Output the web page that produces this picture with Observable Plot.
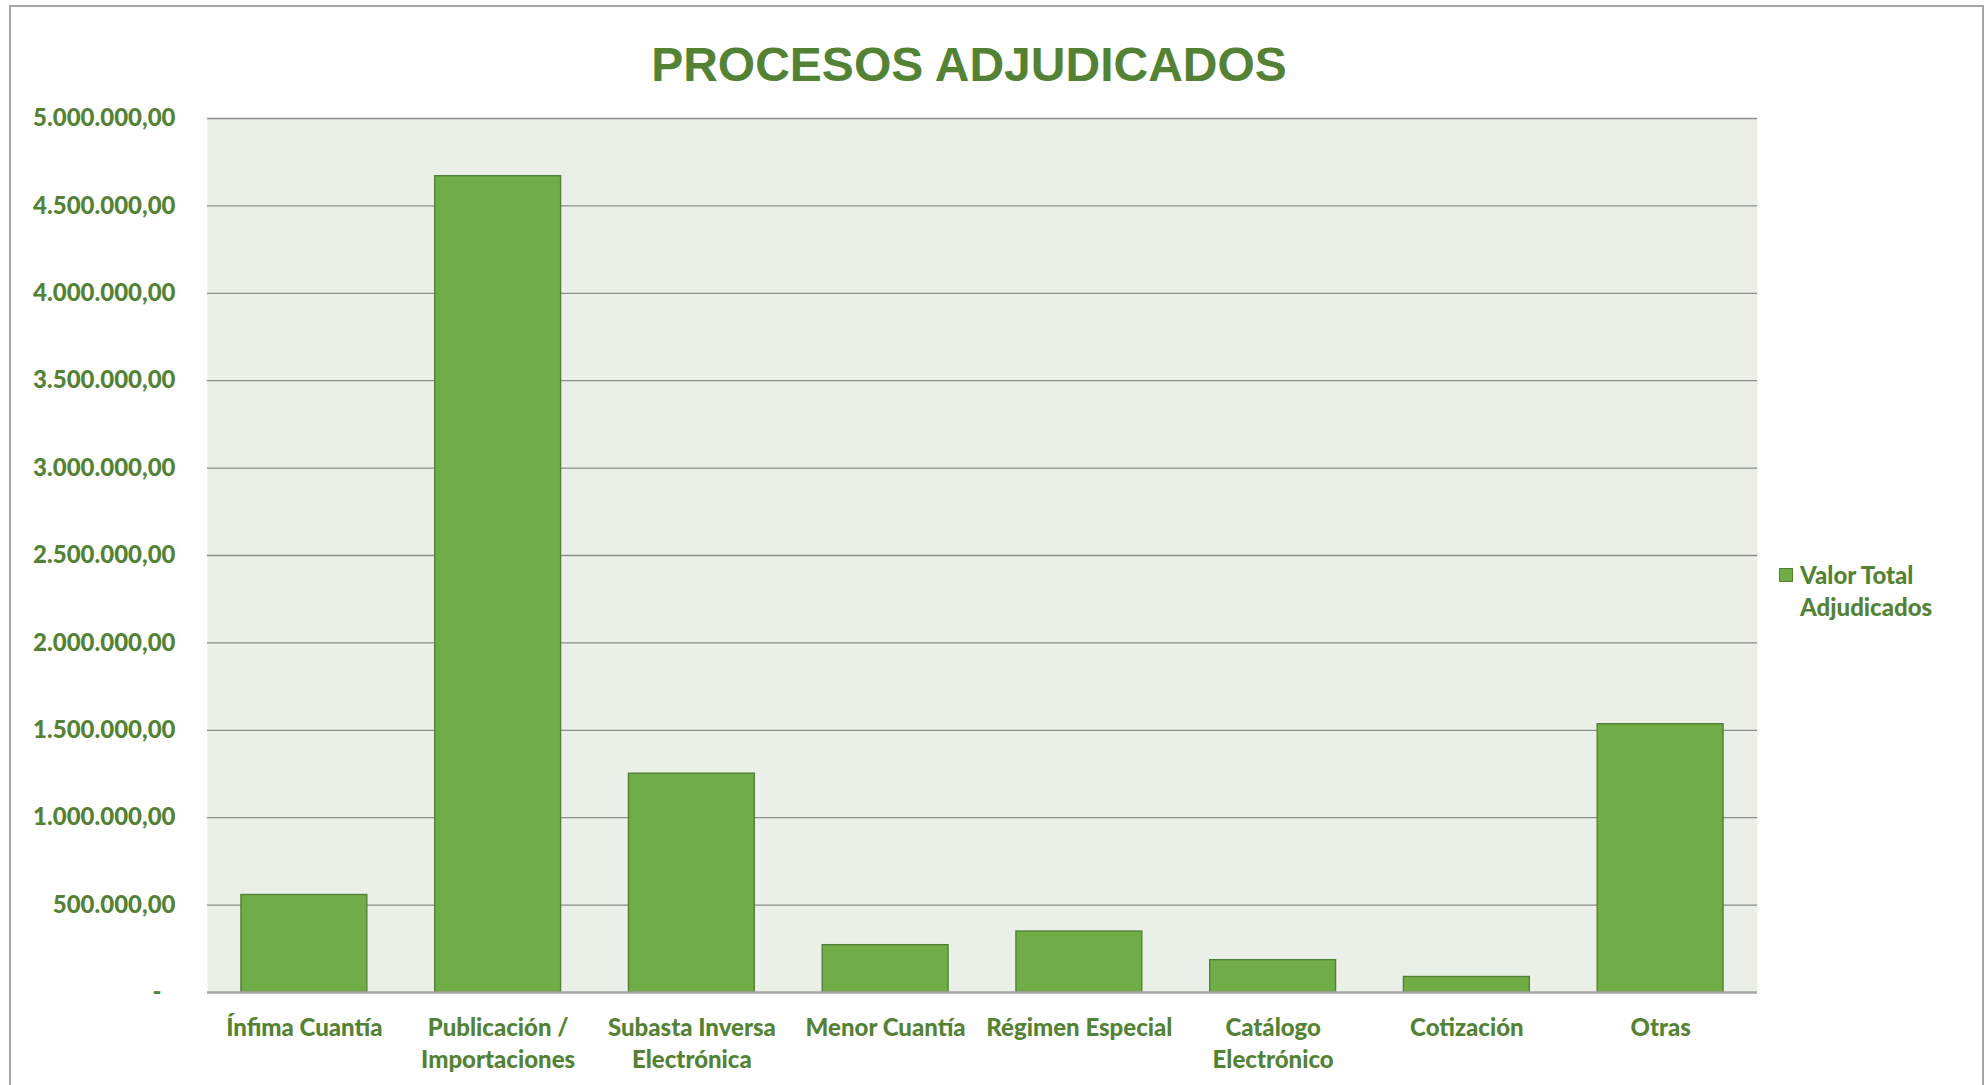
<!DOCTYPE html>
<html>
<head>
<meta charset="utf-8">
<script src="https://cdn.jsdelivr.net/npm/d3@7"></script>
<script src="https://cdn.jsdelivr.net/npm/@observablehq/plot@0.6"></script>
<style>
  html, body { margin: 0; padding: 0; background: #fff; }
  #wrap { position: relative; width: 1988px; height: 1085px; overflow: hidden; }
  #frame { position: absolute; left: 9px; top: 5px; width: 1975px; height: 1100px; border: 2px solid #a6a6a6; box-sizing: border-box; }
  #title { position: absolute; left: 0; top: 37px; width: 1938px; text-align: center;
    font-family: "Liberation Sans", Arial, sans-serif; font-weight: bold; font-size: 48px; color: #548235; }
  #legend { position: absolute; left: 1779px; top: 559px; font-family: Lato, "Open Sans", sans-serif;
    font-weight: 900; font-size: 24px; color: #548235; line-height: 32px; }
  #legend .sw { position: absolute; left: 0; top: 9px; width: 14px; height: 14px; background: #70AD47; border: 1px solid #507E32; box-sizing: border-box; }
  #legend .tx { margin-left: 21px; }
  #chart { position: absolute; left: 0; top: 0; }
</style>
</head>
<body>
<div id="wrap">
  <div id="frame"></div>
  <div id="chart"></div>
  <div id="title">PROCESOS ADJUDICADOS</div>
  <div id="legend"><div class="sw"></div><div class="tx">Valor Total<br>Adjudicados</div></div>
</div>
<script>
const categories = ["Ínfima Cuantía", "Publicación / Importaciones", "Subasta Inversa Electrónica", "Menor Cuantía", "Régimen Especial", "Catálogo Electrónico", "Cotización", "Otras"];
const categoryLabels = ["Ínfima Cuantía", "Publicación /\nImportaciones", "Subasta Inversa\nElectrónica", "Menor Cuantía", "Régimen Especial", "Catálogo\nElectrónico", "Cotización", "Otras"];
const values = [558000, 4670000, 1252000, 271000, 349000, 185000, 89000, 1535000];
const yTicks = [0, 500000, 1000000, 1500000, 2000000, 2500000, 3000000, 3500000, 4000000, 4500000, 5000000];

const data = categories.map((c, i) => ({ category: c, value: values[i] }));
const labelOf = new Map(categories.map((c, i) => [c, categoryLabels[i]]));
const fmt = d => d === 0 ? "-\u2007" : d.toLocaleString("de-DE", { minimumFractionDigits: 2, maximumFractionDigits: 2 });

const chart = Plot.plot({
  width: 1988,
  height: 1085,
  marginLeft: 207,
  marginRight: 231,
  marginTop: 118,
  marginBottom: 93,
  style: { fontFamily: "Lato, 'Open Sans', sans-serif", fontWeight: "900", fontSize: "24px", color: "#548235", background: "transparent" },
  x: { domain: categories, paddingInner: 0.35, paddingOuter: 0.175, round: false, label: null },
  y: { domain: [0, 5000000], label: null },
  marks: [
    Plot.frame({ fill: "#EAEFE8", stroke: null }),
    Plot.ruleY(yTicks.filter(d => d > 0), { stroke: "#8c8c8c", strokeWidth: 1.3, strokeOpacity: 1 }),
    Plot.barY(data, { x: "category", y: "value", fill: "#70AD47", stroke: "#507E32", strokeWidth: 1.3 }),
    Plot.ruleY([0], { stroke: "#a6a6a6", strokeWidth: 2.5 }),
    Plot.axisY({ ticks: yTicks, tickFormat: fmt, tickSize: 0, tickPadding: 32, label: null, fill: "#548235", fontSize: 24 }),
    Plot.axisX({ tickFormat: d => labelOf.get(d), tickSize: 0, tickPadding: 21, label: null, fill: "#548235", fontSize: 24, lineHeight: 1.34 })
  ]
});
document.getElementById("chart").appendChild(chart);
</script>
</body>
</html>
